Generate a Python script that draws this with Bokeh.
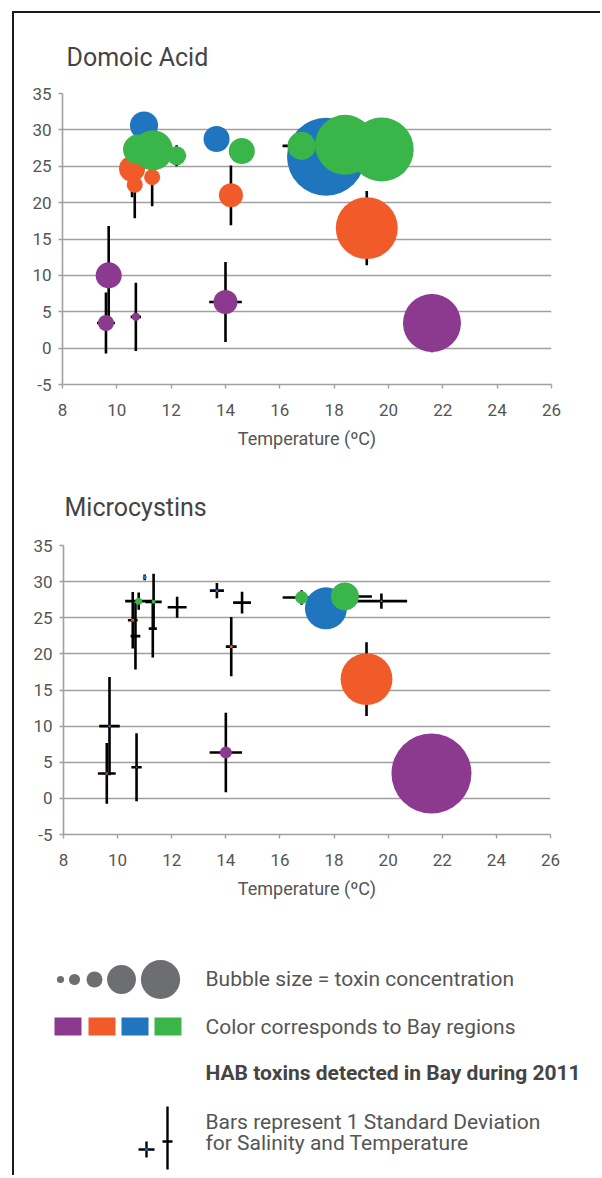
import numpy as np
from bokeh.plotting import figure
from bokeh.models import Range1d, FixedTicker, ColumnDataSource
from bokeh.embed import file_html
from bokeh.resources import INLINE
from bokeh.core.properties import value

# ---------------- data ----------------
# Bay region of each sampling station (R1 purple, R2 orange, R3 blue, R4 green)
region = ["R1"] * 5 + ["R2"] * 5 + ["R3"] * 3 + ["R4"] * 7
# mean temperature (deg C) and salinity for each station
temp = [9.6, 9.7, 10.7, 14.0, 21.6,
        10.56, 10.66, 11.3, 14.2, 19.2,
        11.0, 13.67, 17.7,
        10.78, 11.33, 12.2, 14.6, 16.8, 18.4, 19.75]
salinity = [3.45, 10.0, 4.3, 6.35, 3.45,
            24.65, 22.45, 23.5, 21.0, 16.5,
            30.6, 28.75, 26.3,
            27.3, 27.2, 26.45, 27.1, 27.8, 27.95, 27.3]
# one standard deviation
temp_sd = [0.33, 0.38, 0.19, 0.6, 0.05,
           0.18, 0.18, 0.15, 0.2, 0.05,
           0.05, 0.26, 0.3,
           0.5, 0.3, 0.35, 0.33, 0.7, 1.0, 0.95]
salinity_sd = [4.2, 6.8, 4.7, 5.5, 4.0,
               3.9, 4.6, 4.0, 4.1, 5.1,
               0.4, 1.05, 1.0,
               1.2, 3.9, 1.45, 1.5, 1.0, 1.0, 1.05]
# relative toxin concentrations (bubble area)
domoic_acid = [4.0, 10.6, 1.0, 9.0, 52.6,
               10.6, 4.0, 4.0, 9.0, 60.0,
               12.3, 10.6, 95.0,
               14.0, 25.0, 5.6, 10.6, 12.3, 56.0, 64.0]
microcystins = [0.14, 0.14, 0.05, 2.25, 100.0,
                0.14, 0.0, 0.0, 0.14, 42.0,
                0.25, 0.14, 27.6,
                0.77, 0.25, 0.0, 0.0, 2.6, 12.25, 0.06]

x_ticks = list(range(8, 27, 2))
y_ticks = list(range(-5, 36, 5))
y_tick_labels = {v: str(v) for v in y_ticks}

region_colors = {"R1": "#8B3A8F", "R2": "#F15A29", "R3": "#1F75BE", "R4": "#3AB54A"}

legend_bubbles = [0.8, 1.9, 4.0, 13.0, 24.0]
legend_text = ["Bubble size = toxin concentration",
               "Color corresponds to Bay regions",
               "HAB toxins detected in Bay during 2011",
               "Bars represent 1 Standard Deviation",
               "for Salinity and Temperature"]

FONT = "Roboto"
TXT = "#555555"
GRID = "#a0a0a0"
BUBBLE_K = 8.0  # diameter in px = K * sqrt(concentration)
FRAME_LINE = "2px solid #1a1a1a"

t = np.array(temp)
s = np.array(salinity)
tsd = np.array(temp_sd)
ssd = np.array(salinity_sd)
colors = [region_colors[r] for r in region]

W = 586


def chart(title, conc, frame_left, frame_w, frame_top, frame_h, bottom, t_standoff, t_offset, styles):
    p = figure(frame_width=frame_w, frame_height=frame_h,
               min_border_left=frame_left, min_border_right=W - frame_left - frame_w,
               min_border_top=frame_top, min_border_bottom=bottom,
               x_range=Range1d(8, 26), y_range=Range1d(-5, 35),
               output_backend="svg", toolbar_location=None, title=title, styles=styles)
    p.title.text_font = FONT
    p.title.text_font_size = "25px"
    p.title.text_font_style = "normal"
    p.title.text_color = "#444444"
    p.title.align = "left"
    p.title.offset = t_offset
    p.title.standoff = t_standoff
    p.outline_line_color = None
    p.background_fill_color = "white"
    p.border_fill_color = "white"

    p.xgrid.visible = False
    p.ygrid.ticker = FixedTicker(ticks=y_ticks)
    p.ygrid.grid_line_color = GRID
    p.ygrid.grid_line_width = 1.6

    for ax in (p.xaxis[0], p.yaxis[0]):
        ax.axis_line_color = GRID
        ax.axis_line_width = 1.6
        ax.major_tick_line_color = GRID
        ax.major_tick_line_width = 1.4
        ax.minor_tick_line_color = None
        ax.major_tick_in = 0
        ax.major_tick_out = 4
        ax.major_label_text_font = FONT
        ax.major_label_text_font_size = "17px"
        ax.major_label_text_color = TXT
    p.xaxis.ticker = FixedTicker(ticks=x_ticks)
    p.yaxis.ticker = FixedTicker(ticks=y_ticks)
    p.yaxis.major_label_overrides = y_tick_labels
    p.xaxis.major_label_standoff = 15
    p.yaxis.major_label_standoff = 7
    p.xaxis.axis_label = "Temperature (ºC)"
    p.xaxis.axis_label_text_font = FONT
    p.xaxis.axis_label_text_font_size = "18px"
    p.xaxis.axis_label_text_font_style = "normal"
    p.xaxis.axis_label_text_color = TXT
    p.xaxis.axis_label_standoff = 9

    # error bars (1 SD)
    bars = ColumnDataSource(dict(t=t, s=s, t0=t - tsd, t1=t + tsd, s0=s - ssd, s1=s + ssd))
    p.segment(x0="t0", y0="s", x1="t1", y1="s", source=bars, line_color="black", line_width=2.6)
    p.segment(x0="t", y0="s0", x1="t", y1="s1", source=bars, line_color="black", line_width=2.6)

    c = np.array(conc)
    keep = c > 0
    src = ColumnDataSource(dict(t=t[keep], s=s[keep],
                                size=BUBBLE_K * np.sqrt(c[keep]),
                                color=[col for col, k in zip(colors, keep) if k]))
    p.scatter(x="t", y="s", size="size", fill_color="color", line_color=None, source=src)
    return p


p1 = chart("Domoic Acid", domoic_acid, 48, 489, 80, 291, 82, 44, 4,
           {"border-left": FRAME_LINE, "border-top": FRAME_LINE,
            "margin-left": "12px", "margin-top": "11px"})
p2 = chart("Microcystins", microcystins, 49, 487, 79, 289, 79, 48, 1,
           {"border-left": FRAME_LINE, "margin-left": "12px"})

# ---------------- legend panel ----------------
LH = 262
leg = figure(frame_width=W, frame_height=LH, x_range=Range1d(0, W), y_range=Range1d(LH, 0),
             min_border=0, x_axis_location=None, y_axis_location=None,
             output_backend="svg", toolbar_location=None,
             styles={"border-left": FRAME_LINE, "margin-left": "12px"})
leg.grid.visible = False
leg.outline_line_color = None
leg.border_fill_color = "white"

bx = [46, 60, 80, 107, 146]
by = [66, 66, 66, 66, 66]
leg.scatter(x=bx, y=by, size=[BUBBLE_K * np.sqrt(v) for v in legend_bubbles],
            fill_color="#6D6E71", line_color=None)
leg.rect(x=[53.5, 87.5, 120.5, 153.5], y=[113] * 4, width=27, height=18,
         fill_color=[region_colors[k] for k in ["R1", "R2", "R3", "R4"]], line_color=None)
leg.text(x=[191, 191], y=[65, 113], text=legend_text[:2], text_font=value(FONT),
         text_font_size="21px", text_color=TXT, text_baseline="middle")
leg.text(x=[191], y=[159], text=[legend_text[2]], text_font=value(FONT),
         text_font_size="21px", text_font_style="bold", text_color="#444444", text_baseline="middle")
leg.text(x=[191, 191], y=[208, 229], text=legend_text[3:], text_font=value(FONT),
         text_font_size="21px", text_color=TXT, text_baseline="middle")
# example SD crosses
leg.segment(x0=[124, 132, 148, 153], y0=[236, 228, 228, 193],
            x1=[140, 132, 158, 153], y1=[236, 244, 228, 256],
            line_color="black", line_width=2.4)
leg.scatter(x=[132], y=[236], size=3, fill_color="#1F75BE", line_color=None)

open("out.html", "w").write(file_html([p1, p2, leg], INLINE))
